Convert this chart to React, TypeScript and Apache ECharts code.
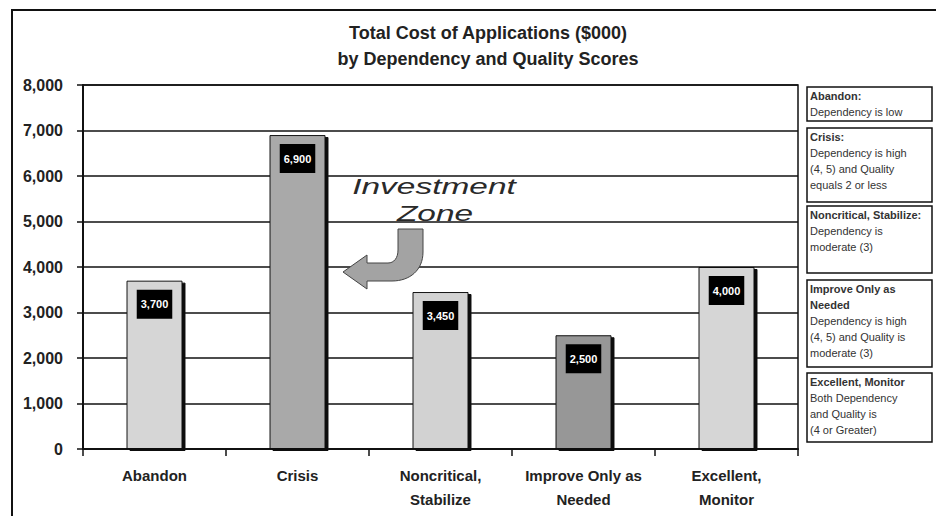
import React, { useEffect, useRef } from "react";
import * as echarts from "echarts";

const categories = ["Abandon", "Crisis", "Noncritical,\nStabilize", "Improve Only as\nNeeded", "Excellent,\nMonitor"];
const values = [3700, 6900, 3450, 2500, 4000];
const barColors = ["#d6d6d6", "#a9a9a9", "#d2d2d2", "#979797", "#d6d6d6"];
const titleLines = ["Total Cost of Applications ($000)", "by Dependency and Quality Scores"];
const noteHeads = [
  ["Abandon:"],
  ["Crisis:"],
  ["Noncritical, Stabilize:"],
  ["Improve Only as", "Needed"],
  ["Excellent, Monitor"],
];
const noteBodies = [
  ["Dependency is low"],
  ["Dependency is high", "(4, 5) and Quality", "equals 2 or less"],
  ["Dependency is", "moderate (3)"],
  ["Dependency is high", "(4, 5) and Quality is", "moderate (3)"],
  ["Both Dependency", "and Quality is", "(4 or Greater)"],
];
const annotation = ["Investment", "Zone"];

const FONT = "'Liberation Sans', Arial, sans-serif";
const boxes = [
  [87, 121],
  [128, 202],
  [206, 273],
  [280, 367],
  [373, 442],
];

const arrowPath =
  "M 398 229 L 423 229 L 423 252 C 423 270 410 281 392 281 L 367 281 L 367 289 L 343 272 L 367 255 L 367 263 L 388 263 C 394 263 398 258 398 250 Z";

echarts.graphic.registerShape("zoneArrow", echarts.graphic.extendPath(arrowPath, {}) as any);

const fmt = (v: number) => v.toLocaleString("en-US");

export default function App() {
  const ref = useRef<HTMLDivElement>(null);
  useEffect(() => {
    if (!ref.current) return;
    const chart = echarts.init(ref.current, null, { renderer: "svg" });

    const noteGraphics: any[] = [];
    boxes.forEach(([t, b], i) => {
      noteGraphics.push({
        type: "rect",
        shape: { x: 807, y: t, width: 125, height: b - t },
        style: { fill: "#fff", stroke: "#111", lineWidth: 1.5 },
        z: 10,
      });
      const text =
        noteHeads[i].map((s) => `{h|${s}}`).join("\n") +
        "\n" +
        noteBodies[i].map((s) => `{b|${s}}`).join("\n");
      noteGraphics.push({
        type: "text",
        x: 810,
        y: t + 1,
        z: 11,
        style: {
          text,
          fill: "#222",
          font: `11px ${FONT}`,
          rich: {
            h: { fontFamily: FONT, fontSize: 11, fontWeight: "bold", lineHeight: 16, fill: "#333" },
            b: { fontFamily: FONT, fontSize: 11, lineHeight: 16, fill: "#333" },
          },
        },
      });
    });

    chart.setOption({
      animation: false,
      backgroundColor: "#fff",
      title: {
        text: titleLines.join("\n"),
        left: 483,
        top: 15,
        textAlign: "center",
        textStyle: {
          fontFamily: FONT,
          fontSize: 18,
          fontWeight: "bold",
          color: "#222",
          lineHeight: 26,
        },
      },
      grid: {
        left: 83,
        right: 138,
        top: 85,
        bottom: 67,
        show: true,
        borderColor: "#111",
        borderWidth: 1.5,
        backgroundColor: "transparent",
      },
      xAxis: {
        type: "category",
        data: categories,
        axisLine: { lineStyle: { color: "#111", width: 2 } },
        axisTick: { show: true, length: 7, lineStyle: { color: "#111", width: 1.5 } },
        axisLabel: {
          interval: 0,
          margin: 14,
          fontFamily: FONT,
          fontSize: 15,
          fontWeight: "bold",
          color: "#222",
          lineHeight: 24,
        },
      },
      yAxis: {
        type: "value",
        min: 0,
        max: 8000,
        interval: 1000,
        axisLine: { show: true, lineStyle: { color: "#111", width: 2 } },
        axisTick: { show: true, length: 6, lineStyle: { color: "#111", width: 1.5 } },
        axisLabel: {
          margin: 20,
          fontFamily: FONT,
          fontSize: 16,
          fontWeight: "bold",
          color: "#222",
          formatter: (v: number) => fmt(v),
        },
        splitLine: { show: true, lineStyle: { color: "#111", width: 1.5 } },
      },
      series: [
        {
          type: "bar",
          barWidth: 56,
          data: values.map((v, i) => ({
            value: v,
            itemStyle: {
              color: barColors[i],
              borderColor: "#111",
              borderWidth: 1,
              shadowColor: "#111",
              shadowOffsetX: 3,
              shadowOffsetY: 2,
              shadowBlur: 0,
            },
          })),
          label: {
            show: true,
            position: "insideTop",
            distance: 9,
            formatter: (p: any) => fmt(p.value),
            backgroundColor: "#000",
            color: "#fff",
            fontFamily: FONT,
            fontSize: 11,
            fontWeight: "bold",
            padding: [9, 4],
          },
          z: 3,
        },
      ],
      graphic: [
        {
          type: "rect",
          shape: { x: 12, y: 10, width: 940, height: 530 },
          style: { fill: "none", stroke: "#111", lineWidth: 2 },
          z: 20,
        },
        {
          type: "text",
          x: 434,
          y: 186,
          scaleX: 1.52,
          z: 12,
          style: {
            text: annotation[0],
            font: `italic 22px ${FONT}`,
            fill: "#2a2a2a",
            align: "center",
            verticalAlign: "middle",
          },
        },
        {
          type: "text",
          x: 435,
          y: 213,
          scaleX: 1.52,
          z: 12,
          style: {
            text: annotation[1],
            font: `italic 22px ${FONT}`,
            fill: "#2a2a2a",
            align: "center",
            verticalAlign: "middle",
          },
        },
        {
          type: "zoneArrow",
          x: 0,
          y: 0,
          z: 12,
          style: { fill: "#a3a3a3", stroke: "#444", lineWidth: 1 },
        },
        ...noteGraphics,
      ],
    });
    return () => chart.dispose();
  }, []);
  return (
    <div
      ref={ref}
      style={{ position: "absolute", left: 0, top: 0, width: 936, height: 516 }}
    />
  );
}
